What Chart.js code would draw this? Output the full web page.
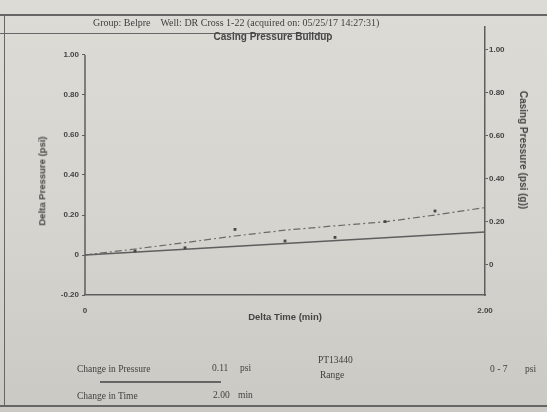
<!DOCTYPE html>
<html>
<head>
<meta charset="utf-8">
<script src="https://cdn.jsdelivr.net/npm/chart.js@4.4.1/dist/chart.umd.min.js"></script>
<style>
    html, body { margin: 0; padding: 0; }
    body {
        width: 547px; height: 412px; overflow: hidden; position: relative;
        background: linear-gradient(180deg, #dcdbd5 0%, #d5d4ce 55%, #cac9c3 100%);
        color: #464646;
    }
    #wrap { position: absolute; left: 0; top: 0; width: 547px; height: 412px; }
    .rule { position: absolute; background: #666; }
    .txt { position: absolute; white-space: nowrap; line-height: 1; }
    .serif { font-family: 'Liberation Serif', 'DejaVu Serif', serif; font-size: 9.5px; color: #3f3f3f; }
    .sans { font-family: 'Liberation Sans', Arial, sans-serif; font-weight: bold; }
</style>
</head>
<body>
<div id="wrap"><canvas id="buildupChart"></canvas></div>

<!-- page frame -->
<div class="rule" style="left:0; top:14px; width:547px; height:1.5px;"></div>
<div class="rule" style="left:0; top:33px; width:330px; height:1.2px;"></div>
<div class="rule" style="left:4px; top:14px; width:1.2px; height:392px;"></div>
<div class="rule" style="left:0; top:405px; width:547px; height:1.5px;"></div>

<div class="txt serif" style="left:93px; top:18px; font-size:10px;">Group: Belpre&nbsp;&nbsp;&nbsp;&nbsp;Well: DR Cross 1-22 (acquired on: 05/25/17 14:27:31)</div>
<div class="txt sans" style="left:273px; top:32px; font-size:10px; transform:translateX(-50%);">Casing Pressure Buildup</div>
<div class="txt sans" style="left:42px; top:181px; font-size:9.5px; transform:translate(-50%,-50%) rotate(-90deg);">Delta Pressure (psi)</div>
<div class="txt sans" style="left:523px; top:150px; font-size:10px; transform:translate(-50%,-50%) rotate(90deg);">Casing Pressure (psi (g))</div>

<!-- footer -->
<div class="txt serif" style="left:77px; top:365px;">Change in Pressure</div>
<div class="txt serif" style="left:212px; top:364px;">0.11</div>
<div class="txt serif" style="left:240px; top:364px;">psi</div>
<div class="rule" style="left:100px; top:381px; width:121px; height:2px;"></div>
<div class="txt serif" style="left:77px; top:392px;">Change in Time</div>
<div class="txt serif" style="left:213px; top:391px;">2.00</div>
<div class="txt serif" style="left:238px; top:391px;">min</div>
<div class="txt serif" style="left:318px; top:356px;">PT13440</div>
<div class="txt serif" style="left:320px; top:371px;">Range</div>
<div class="txt serif" style="left:490px; top:365px;">0 - 7</div>
<div class="txt serif" style="left:525px; top:365px;">psi</div>

<script>
// Casing pressure buildup - delta pressure vs time

const timeTicks = [0, 2.0];
const deltaTicks = [-0.2, 0, 0.2, 0.4, 0.6, 0.8, 1.0];
const casingTicks = [0, 0.2, 0.4, 0.6, 0.8, 1.0];

// measured readings (min, psi)
const sampleTime = [0.25, 0.5, 0.75, 1.0, 1.25, 1.5, 1.75];
const samplePsi = [0.02, 0.036, 0.128, 0.07, 0.088, 0.167, 0.22];

// straight fit (solid)
const fitTime = [0, 2.0];
const fitPsi = [0, 0.115];

// dash-dot trend
const trendTime = [0, 0.25, 0.5, 0.75, 1.0, 1.25, 1.5, 1.75, 2.0];
const trendPsi = [0, 0.03, 0.062, 0.095, 0.124, 0.146, 0.166, 0.2, 0.237];

const ink = '#444';
const lineGrey = '#5e5e5e';
const tickFont = { family: 'Liberation Sans', size: 8, weight: 'bold' };

function pairs(xs, ys) {
    return xs.map((x, i) => ({ x: x, y: ys[i] }));
}

function fmt(v) {
    return v === 0 ? '0' : v.toFixed(2);
}

// left axis line only runs up to its top tick
const leftAxisLine = {
    id: 'leftAxisLine',
    afterDraw(chart) {
        const { ctx, chartArea } = chart;
        const y = chart.scales.y;
        ctx.save();
        ctx.strokeStyle = lineGrey;
        ctx.lineWidth = 1.5;
        ctx.beginPath();
        ctx.moveTo(chartArea.left, y.getPixelForValue(deltaTicks[deltaTicks.length - 1]));
        ctx.lineTo(chartArea.left, chartArea.bottom);
        ctx.stroke();
        ctx.restore();
    }
};

new Chart(document.getElementById('buildupChart'), {
    type: 'scatter',
    data: {
        datasets: [
            {
                label: 'Readings',
                data: pairs(sampleTime, samplePsi),
                pointStyle: 'rect',
                pointRadius: 2,
                backgroundColor: '#484848',
                borderColor: '#484848',
                borderWidth: 0
            },
            {
                label: 'Fit',
                data: pairs(fitTime, fitPsi),
                showLine: true,
                borderColor: lineGrey,
                borderWidth: 1.5,
                pointRadius: 0
            },
            {
                label: 'Trend',
                data: pairs(trendTime, trendPsi),
                showLine: true,
                borderColor: '#6a6a6a',
                borderWidth: 1.2,
                borderDash: [7, 3, 2, 3],
                pointRadius: 0
            }
        ]
    },
    options: {
        responsive: true,
        maintainAspectRatio: false,
        animation: false,
        layout: { padding: { left: 0, right: 0, top: 27, bottom: 85 } },
        plugins: {
            legend: { display: false },
            tooltip: { enabled: false }
        },
        scales: {
            x: {
                type: 'linear',
                min: 0,
                max: 2.0,
                afterBuildTicks: s => { s.ticks = timeTicks.map(v => ({ value: v })); },
                afterFit: s => { s.height = 32; },
                grid: { display: false },
                border: { display: true, color: lineGrey, width: 1.5 },
                ticks: { color: ink, font: tickFont, padding: 3, maxRotation: 0, callback: fmt },
                title: {
                    display: true,
                    text: 'Delta Time (min)',
                    color: ink,
                    font: { family: 'Liberation Sans', size: 9.5, weight: 'bold' },
                    padding: { top: 0, bottom: 4 }
                }
            },
            y: {
                position: 'left',
                min: -0.2,
                max: 1.14,
                afterBuildTicks: s => { s.ticks = deltaTicks.map(v => ({ value: v })); },
                afterFit: s => { s.width = 85; },
                grid: { drawOnChartArea: false, drawTicks: true, tickLength: 3, color: lineGrey },
                border: { display: false },
                ticks: { color: ink, font: tickFont, padding: 3, callback: fmt }
            },
            y2: {
                position: 'right',
                min: -0.14,
                max: 1.107,
                afterBuildTicks: s => { s.ticks = casingTicks.map(v => ({ value: v })); },
                afterFit: s => { s.width = 62; },
                grid: { drawOnChartArea: false, drawTicks: true, tickLength: 3, color: lineGrey },
                border: { display: true, color: lineGrey, width: 1.5 },
                ticks: { color: ink, font: tickFont, padding: 1, callback: fmt }
            }
        }
    },
    plugins: [leftAxisLine]
});
</script>
</body>
</html>
